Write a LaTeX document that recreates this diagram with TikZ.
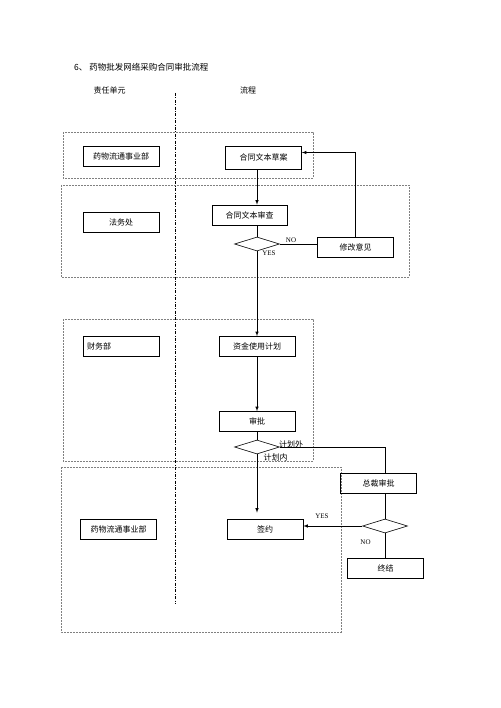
\documentclass[tikz,border=0pt]{standalone}
\usepackage{fontspec}
\setmainfont{Liberation Serif}
\newfontfamily\cjk{Noto Sans CJK SC}
\usetikzlibrary{arrows,calc,shapes.geometric}

\begin{document}
\begin{tikzpicture}[x=1pt,y=-1pt,
  box/.style={draw,line width=0.7pt,minimum width=76pt,minimum height=20pt,inner sep=0pt,font=\cjk\fontsize{8}{10}\selectfont},
  choice/.style={draw,diamond,line width=0.6pt,minimum width=45pt,minimum height=14pt,inner sep=0pt},
  zone/.style={draw=gray,line width=0.6pt,dash pattern=on 2pt off 1pt},
  arr/.style={-latex,line width=0.6pt},
  lbl/.style={inner sep=0pt,font=\fontsize{7}{8}\selectfont},
  clbl/.style={inner sep=0pt,font=\cjk\fontsize{8}{9}\selectfont}]
\useasboundingbox (0,0) rectangle (500,708);

\draw[zone] (63,132) rectangle (313,178);
\draw[zone] (61,185) rectangle (409,277);
\draw[zone] (63,319) rectangle (313,461);
\draw[zone] (61,467) rectangle (341,632);
\draw[line width=0.6pt,dash pattern=on 3pt off 1.5pt on 0.8pt off 1.5pt] (175,93) -- (175,604);

\node[clbl,anchor=west,font=\cjk\fontsize{8.5}{10}\selectfont] (title) at (74,67) {6、 药物批发网络采购合同审批流程};
\node[clbl] (zeren) at (109.5,90) {责任单元};
\node[clbl] (liucheng) at (248,90) {流程};

\node[box] (unit1) at (121,156) {药物流通事业部};
\node[box,minimum height=23pt] (caoan) at (263.5,157.5) {合同文本草案};
\node[box] (fawu) at (121,222) {法务处};
\node[box,minimum width=75pt] (shencha) at (249.5,215) {合同文本审查};
\node[choice] (d1) at (257,244) {};
\node[box] (xiugai) at (355.5,247) {修改意见};
\node[box,text width=68pt,inner xsep=4pt,align=left] (caiwu) at (121,346.5) {财务部};
\node[box] (zijin) at (257,346.5) {资金使用计划};
\node[box] (shenpi) at (257,421.5) {审批};
\node[choice] (d2) at (257,447) {};
\node[box] (zongcai) at (378.5,483) {总裁审批};
\node[box] (unit2) at (118.5,529) {药物流通事业部};
\node[box] (qianyue) at (265,529) {签约};
\node[choice] (d3) at (385,526) {};
\node[box] (zhongjie) at (385.5,568.5) {终结};

\node[lbl] (no1) at (291,240) {NO};
\node[lbl] (yes1) at (269,253) {YES};
\node[clbl] (out) at (291,444) {计划外};
\node[clbl] (in) at (275.5,457) {计划内};
\node[lbl] (yes2) at (322,516) {YES};
\node[lbl] (no2) at (365.5,542) {NO};

\draw[arr] (caoan.south -| d1.north) -- (shencha.north -| d1.north);
\draw[line width=0.6pt] (shencha.south -| d1.north) -- (d1.north);
\draw[line width=0.6pt] (d1.east) -- (d1.east -| xiugai.west);
\draw[arr] (xiugai.north) |- ([yshift=5pt]caoan.east);
\draw[arr] (d1.south) -- (zijin.north);
\draw[arr] (zijin.south) -- (shenpi.north);
\draw[line width=0.6pt] (shenpi.south) -- (d2.north);
\draw[line width=0.6pt] (d2.east) -| (zongcai.north -| d3.north);
\draw[arr,shorten >=6pt] (d2.south) -- (qianyue.north -| d2.south);
\draw[line width=0.6pt] (zongcai.south -| d3.north) -- (d3.north);
\draw[arr] (d3.west) -- (d3.west -| qianyue.east);
\draw[line width=0.6pt] (d3.south) -- (zhongjie.north -| d3.south);

\end{tikzpicture}
\end{document}
